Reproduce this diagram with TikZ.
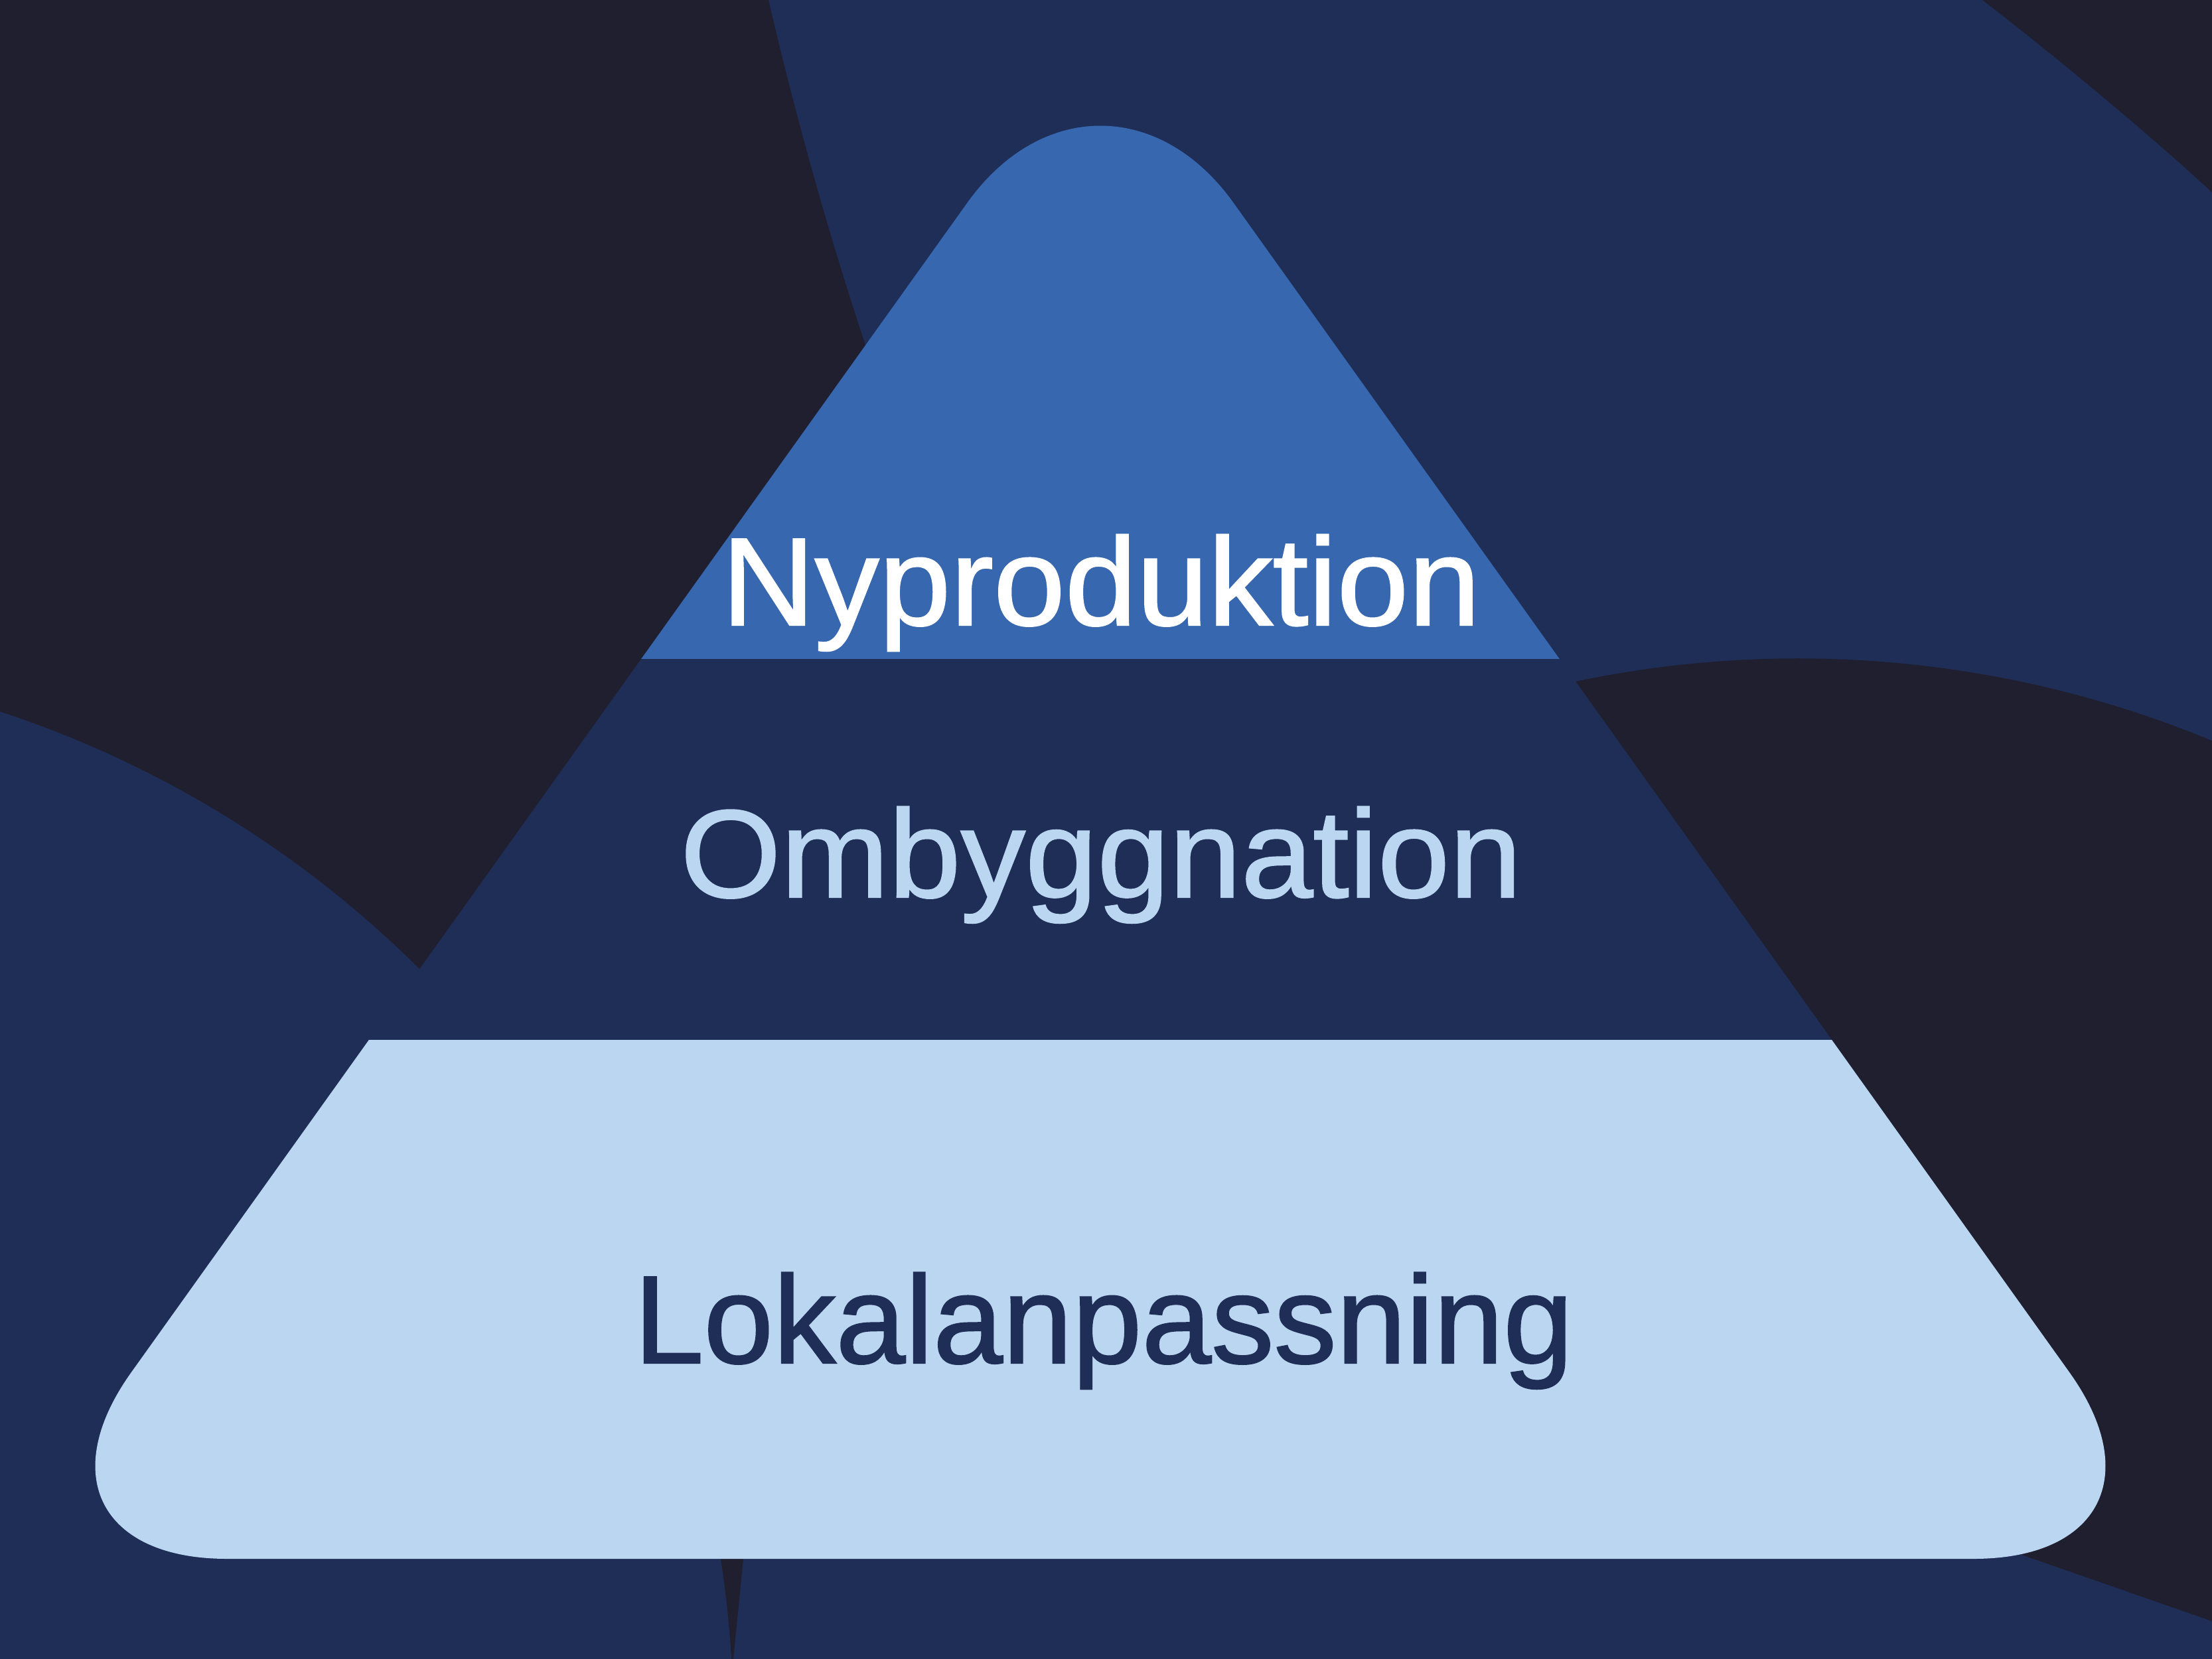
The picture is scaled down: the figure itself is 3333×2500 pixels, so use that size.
\documentclass[tikz,border=0pt]{standalone}
\usepackage{fontspec}
\setmainfont{Liberation Sans}[FakeBold=1.2]
\definecolor{bgnavy}{HTML}{1F1F30}
\definecolor{bgblue}{HTML}{1F2E57}
\definecolor{midblue}{HTML}{3768AF}
\definecolor{lightblue}{HTML}{BAD6F0}
\begin{document}
\begin{tikzpicture}[%
        x=0.01cm, y=-0.01cm,
        mydark/.style={fill=bgnavy},
        myblue/.style={fill=bgblue},
        mylabel/.style={anchor=base, inner sep=0pt, font=\fontsize{53.6}{60}\selectfont}
    ]
    \useasboundingbox (0,0) rectangle (3333,2500);
    \fill [myblue] (0,0) rectangle (3333,2500);
    % dark gaps between the background blobs
    \fill [mydark] (0,0) -- (1158,0) .. controls (1198,172) and (1246,345) .. (1303,517)
        -- (1400,900) -- (640,1480) -- (0,1400) -- cycle;
    \fill [mydark] (2987,0) .. controls (3104,90) and (3253,215) .. (3333,290) -- (3333,0) -- cycle;
    \fill [mydark] (2374,1027) arc [start angle=-101.85, end angle=-67.5, radius=1632]
        -- (3333,2443) -- (3035,2339) -- (2900,2300) -- cycle;
    \fill [mydark] (1050,2300) -- (1126,2300) -- (1120,2349) -- (1105,2500) -- (1080,2500) -- cycle;
    \fill [myblue] (-500,2598) circle [radius=1605];
    % pyramid
    \begin{scope}
        \clip [rounded corners=3.45cm] (1658,2349) -- (3319,2349) -- (1658,25) -- (-3,2349) -- cycle;
        \foreach \ytop/\ybot/\col in {0/993/midblue, 993/1567/bgblue, 1567/2400/lightblue}
            \fill [\col] (0,\ytop) rectangle (3333,\ybot);
    \end{scope}
    \node (nyprod) [mylabel, text=white] at (1659,942) {\scalebox{1.029}[1]{Nyproduktion}};
    \node (ombygg) [mylabel, text=lightblue] at (1659,1352) {\scalebox{1.034}[1]{Ombyggnation}};
    \node (lokal) [mylabel, text=bgblue] at (1663,2054) {Lokalanpassning};
\end{tikzpicture}
\end{document}
